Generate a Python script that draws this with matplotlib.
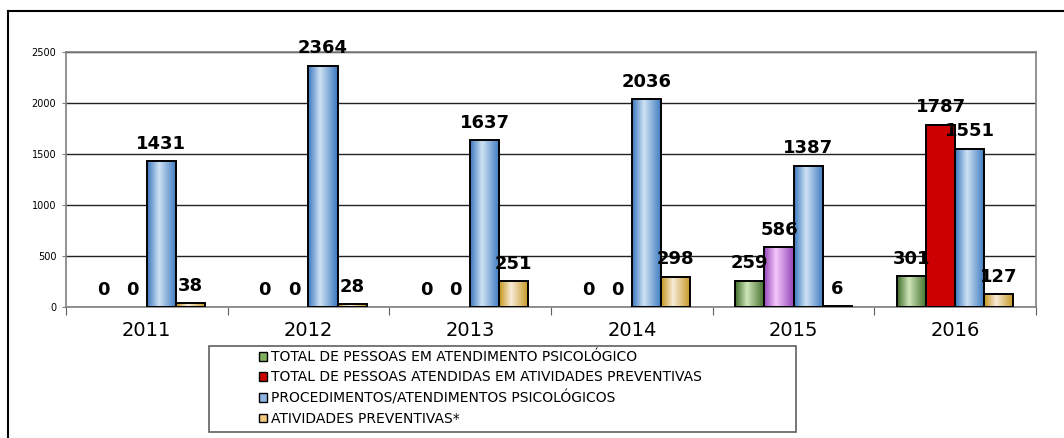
import numpy as np
import matplotlib
matplotlib.use('Agg')
import matplotlib.pyplot as plt
from matplotlib.colors import LinearSegmentedColormap
from matplotlib.patches import Rectangle
from matplotlib.lines import Line2D

# Data
anos = ['2011', '2012', '2013', '2014', '2015', '2016']
pessoas_atendimento = [0, 0, 0, 0, 259, 301]
pessoas_preventivas = [0, 0, 0, 0, 586, 1787]
procedimentos = [1431, 2364, 1637, 2036, 1387, 1551]
atividades = [38, 28, 251, 298, 6, 127]

nomes = ['TOTAL DE PESSOAS EM ATENDIMENTO PSICOLÓGICO',
         'TOTAL DE PESSOAS ATENDIDAS EM ATIVIDADES PREVENTIVAS',
         'PROCEDIMENTOS/ATENDIMENTOS PSICOLÓGICOS',
         'ATIVIDADES PREVENTIVAS*']

# gradient colours per series: (edge, light centre)
grads = [('#3f6b2a', '#cfe6b8'),
         ('#cc0000', '#cc0000'),
         ('#3a78bf', '#cfe2f4'),
         ('#c4951c', '#f8ebd8')]
legend_colors = ['#7fae5c', '#cc0000', '#8db4e2', '#f2c97e']
# the 2015 "preventivas" bar is drawn purple in the original
special = {(1, 4): ('#9446b8', '#f4c8fb')}


def cmap_for(dark, light):
    return LinearSegmentedColormap.from_list(
        'g', [(0, dark), (0.4, light), (1, dark)])


fig = plt.figure(figsize=(10.64, 4.38), dpi=100)
ax = fig.add_axes([0.062, 0.299, 0.9117, 0.582])

x = np.arange(len(anos))
w = 0.18
series = [pessoas_atendimento, pessoas_preventivas, procedimentos, atividades]
grad = np.linspace(0, 1, 64).reshape(1, -1)

for i, vals in enumerate(series):
    bars = ax.bar(x + (i - 1.5) * w, vals, w, align='center',
                  facecolor='none', edgecolor='black', linewidth=1.4,
                  zorder=4, label=nomes[i])
    for j, b in enumerate(bars):
        h = b.get_height()
        if h == 0:
            b.set_linewidth(0)
        else:
            dark, light = special.get((i, j), grads[i])
            ax.imshow(grad, cmap=cmap_for(dark, light), aspect='auto',
                      extent=(b.get_x(), b.get_x() + b.get_width(), 0, h),
                      zorder=3, interpolation='bilinear')
        ax.annotate(str(vals[j]), (b.get_x() + b.get_width() / 2, h),
                    xytext=(0, 9), textcoords='offset points',
                    ha='center', va='baseline', fontsize=13,
                    fontweight='bold', zorder=6, annotation_clip=False)

ax.set_xlim(-0.5, 5.5)
ax.set_ylim(0, 2500)
ax.set_yticks([0, 500, 1000, 1500, 2000, 2500])
ax.tick_params(axis='y', labelsize=7, length=3, pad=4, color='#808080')
ax.yaxis.grid(True, color='#222222', linewidth=1)
ax.set_axisbelow(True)

ax.set_xticks(np.arange(-0.5, 6, 1))
ax.set_xticklabels([])
ax.set_xticks(x, anos, minor=True)
ax.tick_params(axis='x', which='major', length=6, color='#606060')
ax.tick_params(axis='x', which='minor', length=0, labelsize=14, pad=10)

for s in ['left', 'bottom', 'right', 'top']:
    ax.spines[s].set_color('#808080')
    ax.spines[s].set_linewidth(1.2)

# outer frame (left and top only)
fig.add_artist(Line2D([8 / 1064, 8 / 1064], [0, 1 - 11 / 438],
                      color='black', linewidth=1.5))
fig.add_artist(Line2D([8 / 1064, 1], [1 - 11 / 438, 1 - 11 / 438],
                      color='black', linewidth=1.5))

# legend box
fig.add_artist(Rectangle((209 / 1064, 1 - 432 / 438), 587 / 1064, 86 / 438,
                         transform=fig.transFigure, facecolor='white',
                         edgecolor='#606060', linewidth=1.2))
handles = [Rectangle((0, 0), 1, 1, facecolor=c, edgecolor='black',
                     linewidth=1) for c in legend_colors]
fig.legend(handles, nomes, loc='upper left',
           bbox_to_anchor=(248 / 1064, 1 - 339 / 438), frameon=False,
           fontsize=10, handlelength=0.6, handleheight=0.6,
           handletextpad=0.25, labelspacing=0.45, borderpad=0.3)

fig.savefig('out.png', dpi=100)
